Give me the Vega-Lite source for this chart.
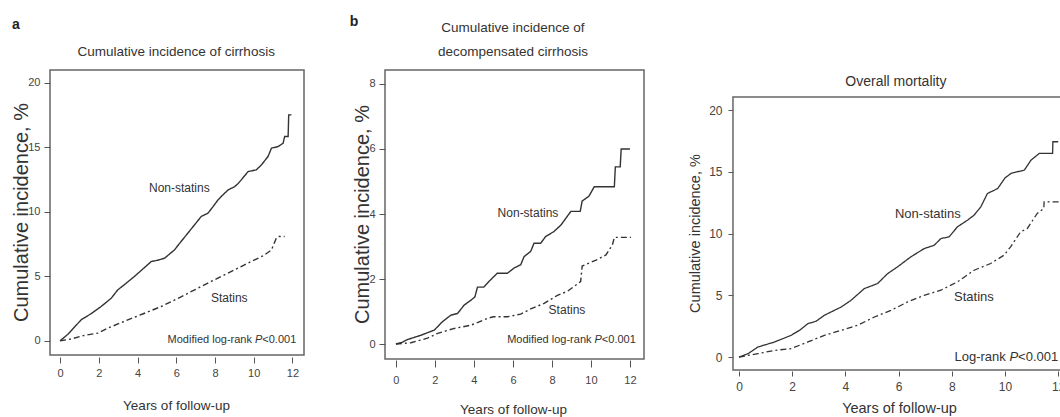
{
  "$schema": "https://vega.github.io/schema/vega-lite/v6.json",
  "padding": {"left": 10, "top": 14, "right": 0, "bottom": 0},
  "background": "white",
  "bounds": "flush",
  "spacing": 81,
  "datasets": {
    "a": [
      {"group": "Non-statins", "year": 0, "inc": 0},
      {"group": "Non-statins", "year": 0.4, "inc": 0.5},
      {"group": "Non-statins", "year": 1.09, "inc": 1.63},
      {"group": "Non-statins", "year": 1.6, "inc": 2.1},
      {"group": "Non-statins", "year": 2.12, "inc": 2.66},
      {"group": "Non-statins", "year": 2.64, "inc": 3.3},
      {"group": "Non-statins", "year": 2.98, "inc": 3.95},
      {"group": "Non-statins", "year": 3.4, "inc": 4.45},
      {"group": "Non-statins", "year": 3.84, "inc": 4.99},
      {"group": "Non-statins", "year": 4.3, "inc": 5.6},
      {"group": "Non-statins", "year": 4.71, "inc": 6.15},
      {"group": "Non-statins", "year": 5.05, "inc": 6.25},
      {"group": "Non-statins", "year": 5.4, "inc": 6.41},
      {"group": "Non-statins", "year": 5.91, "inc": 7.05},
      {"group": "Non-statins", "year": 6.25, "inc": 7.7},
      {"group": "Non-statins", "year": 6.6, "inc": 8.35},
      {"group": "Non-statins", "year": 6.95, "inc": 9.0},
      {"group": "Non-statins", "year": 7.29, "inc": 9.64},
      {"group": "Non-statins", "year": 7.64, "inc": 9.9},
      {"group": "Non-statins", "year": 7.9, "inc": 10.4},
      {"group": "Non-statins", "year": 8.16, "inc": 10.93},
      {"group": "Non-statins", "year": 8.4, "inc": 11.3},
      {"group": "Non-statins", "year": 8.68, "inc": 11.7},
      {"group": "Non-statins", "year": 9.02, "inc": 11.96},
      {"group": "Non-statins", "year": 9.2, "inc": 12.2},
      {"group": "Non-statins", "year": 9.36, "inc": 12.48},
      {"group": "Non-statins", "year": 9.71, "inc": 13.12},
      {"group": "Non-statins", "year": 10.14, "inc": 13.26},
      {"group": "Non-statins", "year": 10.4, "inc": 13.64},
      {"group": "Non-statins", "year": 10.74, "inc": 14.29},
      {"group": "Non-statins", "year": 10.92, "inc": 14.94},
      {"group": "Non-statins", "year": 11.26, "inc": 15.06},
      {"group": "Non-statins", "year": 11.52, "inc": 15.32},
      {"group": "Non-statins", "year": 11.6, "inc": 15.84},
      {"group": "Non-statins", "year": 11.78, "inc": 15.84},
      {"group": "Non-statins", "year": 11.81, "inc": 17.52},
      {"group": "Non-statins", "year": 11.95, "inc": 17.52},
      {"group": "Statins", "year": 0, "inc": 0},
      {"group": "Statins", "year": 0.6, "inc": 0.15},
      {"group": "Statins", "year": 1.2, "inc": 0.4},
      {"group": "Statins", "year": 1.95, "inc": 0.6},
      {"group": "Statins", "year": 2.5, "inc": 1.0},
      {"group": "Statins", "year": 3.5, "inc": 1.63},
      {"group": "Statins", "year": 4.3, "inc": 2.1},
      {"group": "Statins", "year": 5.22, "inc": 2.66},
      {"group": "Statins", "year": 6.1, "inc": 3.3},
      {"group": "Statins", "year": 6.95, "inc": 3.95},
      {"group": "Statins", "year": 7.8, "inc": 4.6},
      {"group": "Statins", "year": 8.68, "inc": 5.25},
      {"group": "Statins", "year": 9.4, "inc": 5.8},
      {"group": "Statins", "year": 10.05, "inc": 6.28},
      {"group": "Statins", "year": 10.5, "inc": 6.6},
      {"group": "Statins", "year": 10.92, "inc": 7.05},
      {"group": "Statins", "year": 11.17, "inc": 7.96},
      {"group": "Statins", "year": 11.3, "inc": 8.09},
      {"group": "Statins", "year": 11.6, "inc": 8.09}
    ],
    "b": [
      {"group": "Non-statins", "year": 0, "inc": 0},
      {"group": "Non-statins", "year": 0.3, "inc": 0.05},
      {"group": "Non-statins", "year": 0.6, "inc": 0.14},
      {"group": "Non-statins", "year": 1.28, "inc": 0.27},
      {"group": "Non-statins", "year": 1.97, "inc": 0.43},
      {"group": "Non-statins", "year": 2.39, "inc": 0.69},
      {"group": "Non-statins", "year": 2.82, "inc": 0.89},
      {"group": "Non-statins", "year": 3.16, "inc": 0.94},
      {"group": "Non-statins", "year": 3.5, "inc": 1.2},
      {"group": "Non-statins", "year": 3.85, "inc": 1.35},
      {"group": "Non-statins", "year": 4.05, "inc": 1.45},
      {"group": "Non-statins", "year": 4.18, "inc": 1.75},
      {"group": "Non-statins", "year": 4.5, "inc": 1.75},
      {"group": "Non-statins", "year": 4.86, "inc": 1.98},
      {"group": "Non-statins", "year": 5.2, "inc": 2.18},
      {"group": "Non-statins", "year": 5.72, "inc": 2.18},
      {"group": "Non-statins", "year": 6.06, "inc": 2.34},
      {"group": "Non-statins", "year": 6.4, "inc": 2.44},
      {"group": "Non-statins", "year": 6.57, "inc": 2.69},
      {"group": "Non-statins", "year": 6.91, "inc": 2.85},
      {"group": "Non-statins", "year": 7.08, "inc": 3.1},
      {"group": "Non-statins", "year": 7.42, "inc": 3.1},
      {"group": "Non-statins", "year": 7.68, "inc": 3.31},
      {"group": "Non-statins", "year": 8.1, "inc": 3.46},
      {"group": "Non-statins", "year": 8.46, "inc": 3.66},
      {"group": "Non-statins", "year": 8.97, "inc": 4.08},
      {"group": "Non-statins", "year": 9.45, "inc": 4.08},
      {"group": "Non-statins", "year": 9.55, "inc": 4.4},
      {"group": "Non-statins", "year": 9.9, "inc": 4.55},
      {"group": "Non-statins", "year": 10.17, "inc": 4.84},
      {"group": "Non-statins", "year": 11.2, "inc": 4.84},
      {"group": "Non-statins", "year": 11.25, "inc": 5.45},
      {"group": "Non-statins", "year": 11.5, "inc": 5.45},
      {"group": "Non-statins", "year": 11.55, "inc": 6.0},
      {"group": "Non-statins", "year": 12.0, "inc": 6.0},
      {"group": "Statins", "year": 0, "inc": 0},
      {"group": "Statins", "year": 0.77, "inc": 0.04},
      {"group": "Statins", "year": 1.62, "inc": 0.18},
      {"group": "Statins", "year": 2.14, "inc": 0.33},
      {"group": "Statins", "year": 2.99, "inc": 0.48},
      {"group": "Statins", "year": 3.85, "inc": 0.58},
      {"group": "Statins", "year": 4.7, "inc": 0.79},
      {"group": "Statins", "year": 5.0, "inc": 0.84},
      {"group": "Statins", "year": 5.72, "inc": 0.84},
      {"group": "Statins", "year": 6.4, "inc": 0.92},
      {"group": "Statins", "year": 6.91, "inc": 1.08},
      {"group": "Statins", "year": 7.6, "inc": 1.25},
      {"group": "Statins", "year": 8.28, "inc": 1.5},
      {"group": "Statins", "year": 8.79, "inc": 1.62},
      {"group": "Statins", "year": 9.47, "inc": 1.92},
      {"group": "Statins", "year": 9.55, "inc": 2.4},
      {"group": "Statins", "year": 10.26, "inc": 2.58},
      {"group": "Statins", "year": 10.77, "inc": 2.74},
      {"group": "Statins", "year": 11.1, "inc": 3.05},
      {"group": "Statins", "year": 11.2, "inc": 3.28},
      {"group": "Statins", "year": 12.05, "inc": 3.28}
    ],
    "c": [
      {"group": "Non-statins", "year": 0, "inc": 0},
      {"group": "Non-statins", "year": 0.34, "inc": 0.27},
      {"group": "Non-statins", "year": 0.71, "inc": 0.81},
      {"group": "Non-statins", "year": 1.34, "inc": 1.22},
      {"group": "Non-statins", "year": 1.96, "inc": 1.76},
      {"group": "Non-statins", "year": 2.3, "inc": 2.2},
      {"group": "Non-statins", "year": 2.59, "inc": 2.7},
      {"group": "Non-statins", "year": 2.9, "inc": 2.9},
      {"group": "Non-statins", "year": 3.21, "inc": 3.38},
      {"group": "Non-statins", "year": 3.84, "inc": 4.05},
      {"group": "Non-statins", "year": 4.21, "inc": 4.59},
      {"group": "Non-statins", "year": 4.71, "inc": 5.54},
      {"group": "Non-statins", "year": 5.21, "inc": 5.95},
      {"group": "Non-statins", "year": 5.59, "inc": 6.76},
      {"group": "Non-statins", "year": 5.96, "inc": 7.3},
      {"group": "Non-statins", "year": 6.46, "inc": 8.11},
      {"group": "Non-statins", "year": 6.96, "inc": 8.78},
      {"group": "Non-statins", "year": 7.34, "inc": 9.05},
      {"group": "Non-statins", "year": 7.59, "inc": 9.59},
      {"group": "Non-statins", "year": 7.9, "inc": 9.73},
      {"group": "Non-statins", "year": 8.21, "inc": 10.54},
      {"group": "Non-statins", "year": 8.59, "inc": 11.08},
      {"group": "Non-statins", "year": 8.84, "inc": 11.49},
      {"group": "Non-statins", "year": 9.09, "inc": 12.16},
      {"group": "Non-statins", "year": 9.34, "inc": 13.24},
      {"group": "Non-statins", "year": 9.59, "inc": 13.5},
      {"group": "Non-statins", "year": 9.73, "inc": 13.66},
      {"group": "Non-statins", "year": 10.0, "inc": 14.5},
      {"group": "Non-statins", "year": 10.23, "inc": 14.87},
      {"group": "Non-statins", "year": 10.73, "inc": 15.14},
      {"group": "Non-statins", "year": 10.98, "inc": 15.95},
      {"group": "Non-statins", "year": 11.29, "inc": 16.49},
      {"group": "Non-statins", "year": 11.79, "inc": 16.49},
      {"group": "Non-statins", "year": 11.8, "inc": 17.43},
      {"group": "Non-statins", "year": 12.0, "inc": 17.43},
      {"group": "Statins", "year": 0, "inc": 0},
      {"group": "Statins", "year": 0.71, "inc": 0.27},
      {"group": "Statins", "year": 1.34, "inc": 0.54},
      {"group": "Statins", "year": 1.96, "inc": 0.68},
      {"group": "Statins", "year": 2.59, "inc": 1.22},
      {"group": "Statins", "year": 3.21, "inc": 1.76},
      {"group": "Statins", "year": 3.84, "inc": 2.16},
      {"group": "Statins", "year": 4.46, "inc": 2.57},
      {"group": "Statins", "year": 5.09, "inc": 3.24},
      {"group": "Statins", "year": 5.71, "inc": 3.78},
      {"group": "Statins", "year": 6.34, "inc": 4.46},
      {"group": "Statins", "year": 6.96, "inc": 5.0},
      {"group": "Statins", "year": 7.59, "inc": 5.41},
      {"group": "Statins", "year": 8.21, "inc": 6.08},
      {"group": "Statins", "year": 8.84, "inc": 7.03},
      {"group": "Statins", "year": 9.46, "inc": 7.57},
      {"group": "Statins", "year": 9.96, "inc": 8.24},
      {"group": "Statins", "year": 10.21, "inc": 8.92},
      {"group": "Statins", "year": 10.59, "inc": 10.14},
      {"group": "Statins", "year": 10.84, "inc": 10.41},
      {"group": "Statins", "year": 11.21, "inc": 11.62},
      {"group": "Statins", "year": 11.46, "inc": 12.03},
      {"group": "Statins", "year": 11.47, "inc": 12.57},
      {"group": "Statins", "year": 12.08, "inc": 12.57}
    ]
  },
  "hconcat": [
    {
      "width": 254,
      "height": 285,
      "view": {"stroke": "#666", "strokeWidth": 1.5},
      "layer": [
        {
          "data": {"name": "a"},
          "mark": {"type": "line", "color": "#333", "strokeWidth": 1.4},
          "encoding": {
            "x": {"field": "year", "type": "quantitative", "scale": {"domain": [-0.52, 12.6], "nice": false, "zero": false},
              "axis": {"values": [0, 2, 4, 6, 8, 10, 12], "domain": false, "grid": false, "offset": 2, "tickSize": 6, "tickColor": "#555", "labelPadding": 4, "labelFont": "Liberation Sans", "labelFontSize": 11, "labelColor": "#444",
                "title": "Years of follow-up", "titleFont": "Liberation Sans", "titleFontSize": 13.5, "titleFontWeight": "normal", "titleColor": "#333", "titleX": 126, "titleY": 48, "titleBaseline": "middle", "titleAlign": "center"}},
            "y": {"field": "inc", "type": "quantitative", "scale": {"domain": [-1.1, 21.0], "nice": false, "zero": false},
              "axis": {"values": [0, 5, 10, 15, 20], "domain": false, "grid": false, "tickSize": 6, "tickColor": "#555", "labelPadding": 4, "labelFont": "Liberation Sans", "labelFontSize": 11, "labelColor": "#444",
                "title": "Cumulative incidence, %", "titleFont": "Liberation Sans", "titleFontSize": 20, "titleFontWeight": "normal", "titleColor": "#333", "titleAngle": -90, "titleX": -29, "titleY": 142, "titleBaseline": "middle", "titleAlign": "center"}},
            "strokeDash": {"field": "group", "type": "nominal", "scale": {"domain": ["Non-statins", "Statins"], "range": [[1, 0], [6, 3, 2, 3]]}, "legend": null},
            "order": {"value": null}
          }
        },
        {"data": {"values": [{}]}, "mark": {"type": "text", "text": "Cumulative incidence of cirrhosis", "font": "Liberation Sans", "fontSize": 13.5, "color": "#333", "baseline": "middle"}, "encoding": {"x": {"datum": 6.0}, "y": {"datum": 22.4}}},
        {"data": {"values": [{}]}, "mark": {"type": "text", "text": "Non-statins", "font": "Liberation Sans", "fontSize": 12, "color": "#333", "baseline": "middle"}, "encoding": {"x": {"datum": 6.16}, "y": {"datum": 11.86}}},
        {"data": {"values": [{}]}, "mark": {"type": "text", "text": "Statins", "font": "Liberation Sans", "fontSize": 12, "color": "#333", "baseline": "middle"}, "encoding": {"x": {"datum": 8.74}, "y": {"datum": 3.33}}},
        {"data": {"values": [{}]}, "mark": {"type": "text", "text": "<0.001", "font": "Liberation Sans", "fontSize": 11, "color": "#333", "align": "right", "baseline": "middle"}, "encoding": {"x": {"datum": 12.2}, "y": {"datum": 0.1}}},
        {"data": {"values": [{}]}, "mark": {"type": "text", "text": "P", "font": "Liberation Sans", "fontStyle": "italic", "fontSize": 11, "color": "#333", "align": "right", "baseline": "middle", "dx": -33.9}, "encoding": {"x": {"datum": 12.2}, "y": {"datum": 0.1}}},
        {"data": {"values": [{}]}, "mark": {"type": "text", "text": "Modified log-rank", "font": "Liberation Sans", "fontSize": 11, "color": "#333", "align": "right", "baseline": "middle", "dx": -44.3}, "encoding": {"x": {"datum": 12.2}, "y": {"datum": 0.1}}},
        {"data": {"values": [{}]}, "mark": {"type": "text", "text": "a", "font": "Liberation Sans", "fontWeight": "bold", "fontSize": 14, "color": "#222", "baseline": "middle"}, "encoding": {"x": {"datum": -2.28}, "y": {"datum": 24.5}}}
      ]
    },
    {
      "width": 259,
      "height": 289,
      "view": {"stroke": "#666", "strokeWidth": 1.5},
      "layer": [
        {
          "data": {"name": "b"},
          "mark": {"type": "line", "color": "#333", "strokeWidth": 1.4},
          "encoding": {
            "x": {"field": "year", "type": "quantitative", "scale": {"domain": [-0.56, 12.72], "nice": false, "zero": false},
              "axis": {"values": [0, 2, 4, 6, 8, 10, 12], "domain": false, "grid": false, "offset": 1, "tickSize": 7, "tickColor": "#555", "labelPadding": 7, "labelFont": "Liberation Sans", "labelFontSize": 11, "labelColor": "#444",
                "title": "Years of follow-up", "titleFont": "Liberation Sans", "titleFontSize": 13.5, "titleFontWeight": "normal", "titleColor": "#333", "titleX": 128, "titleY": 49, "titleBaseline": "middle", "titleAlign": "center"}},
            "y": {"field": "inc", "type": "quantitative", "scale": {"domain": [-0.46, 8.43], "nice": false, "zero": false},
              "axis": {"values": [0, 2, 4, 6, 8], "domain": false, "grid": false, "tickSize": 6, "tickColor": "#555", "labelPadding": 4, "labelFont": "Liberation Sans", "labelFontSize": 11, "labelColor": "#444",
                "title": "Cumulative incidence, %", "titleFont": "Liberation Sans", "titleFontSize": 20, "titleFontWeight": "normal", "titleColor": "#333", "titleAngle": -90, "titleX": -23, "titleY": 144, "titleBaseline": "middle", "titleAlign": "center"}},
            "strokeDash": {"field": "group", "type": "nominal", "scale": {"domain": ["Non-statins", "Statins"], "range": [[1, 0], [6, 3, 2, 3]]}, "legend": null},
            "order": {"value": null}
          }
        },
        {"data": {"values": [{}]}, "mark": {"type": "text", "text": "Cumulative incidence of", "font": "Liberation Sans", "fontSize": 13.5, "color": "#333", "baseline": "middle"}, "encoding": {"x": {"datum": 6.0}, "y": {"datum": 9.72}}},
        {"data": {"values": [{}]}, "mark": {"type": "text", "text": "decompensated cirrhosis", "font": "Liberation Sans", "fontSize": 13.5, "color": "#333", "baseline": "middle"}, "encoding": {"x": {"datum": 6.0}, "y": {"datum": 8.98}}},
        {"data": {"values": [{}]}, "mark": {"type": "text", "text": "Non-statins", "font": "Liberation Sans", "fontSize": 12, "color": "#333", "baseline": "middle"}, "encoding": {"x": {"datum": 6.77}, "y": {"datum": 4.03}}},
        {"data": {"values": [{}]}, "mark": {"type": "text", "text": "Statins", "font": "Liberation Sans", "fontSize": 12, "color": "#333", "baseline": "middle"}, "encoding": {"x": {"datum": 8.77}, "y": {"datum": 1.05}}},
        {"data": {"values": [{}]}, "mark": {"type": "text", "text": "<0.001", "font": "Liberation Sans", "fontSize": 11, "color": "#333", "align": "right", "baseline": "middle"}, "encoding": {"x": {"datum": 12.3}, "y": {"datum": 0.12}}},
        {"data": {"values": [{}]}, "mark": {"type": "text", "text": "P", "font": "Liberation Sans", "fontStyle": "italic", "fontSize": 11, "color": "#333", "align": "right", "baseline": "middle", "dx": -33.9}, "encoding": {"x": {"datum": 12.3}, "y": {"datum": 0.12}}},
        {"data": {"values": [{}]}, "mark": {"type": "text", "text": "Modified log-rank", "font": "Liberation Sans", "fontSize": 11, "color": "#333", "align": "right", "baseline": "middle", "dx": -44.3}, "encoding": {"x": {"datum": 12.3}, "y": {"datum": 0.12}}},
        {"data": {"values": [{}]}, "mark": {"type": "text", "text": "b", "font": "Liberation Sans", "fontWeight": "bold", "fontSize": 14, "color": "#222", "baseline": "middle"}, "encoding": {"x": {"datum": -2.15}, "y": {"datum": 9.9}}}
      ]
    },
    {
      "width": 339,
      "height": 300,
      "view": {"stroke": null},
      "layer": [
        {
          "data": {"values": [{}]},
          "mark": {"type": "rect", "fill": null, "stroke": "#666", "strokeWidth": 1.5},
          "encoding": {"x": {"datum": -0.226}, "x2": {"datum": 12.218}, "y": {"datum": -1.05}, "y2": {"datum": 21.05}}
        },
        {
          "data": {"name": "c"},
          "mark": {"type": "line", "color": "#333", "strokeWidth": 1.3},
          "encoding": {
            "x": {"field": "year", "type": "quantitative", "scale": {"domain": [-0.526, 12.218], "nice": false, "zero": false},
              "axis": {"values": [0, 2, 4, 6, 8, 10, 12], "domain": false, "grid": false, "offset": 1, "tickSize": 5, "tickColor": "#555", "labelPadding": 5, "labelFont": "Liberation Sans", "labelFontSize": 12, "labelColor": "#444",
                "title": "Years of follow-up", "titleFont": "Liberation Sans", "titleFontSize": 14.5, "titleFontWeight": "normal", "titleColor": "#333", "titleX": 174, "titleY": 37, "titleBaseline": "middle", "titleAlign": "center"}},
            "y": {"field": "inc", "type": "quantitative", "scale": {"domain": [-1.05, 23.24], "nice": false, "zero": false},
              "axis": {"values": [0, 5, 10, 15, 20], "domain": false, "grid": false, "offset": -8, "tickSize": 5, "tickColor": "#555", "labelPadding": 6, "labelFont": "Liberation Sans", "labelFontSize": 12, "labelColor": "#444",
                "title": "Cumulative incidence, %", "titleFont": "Liberation Sans", "titleFontSize": 14.5, "titleFontWeight": "normal", "titleColor": "#333", "titleAngle": -90, "titleX": -38, "titleY": 163, "titleBaseline": "middle", "titleAlign": "center"}},
            "strokeDash": {"field": "group", "type": "nominal", "scale": {"domain": ["Non-statins", "Statins"], "range": [[1, 0], [8, 4]]}, "legend": null},
            "order": {"value": null}
          }
        },
        {"data": {"values": [{}]}, "mark": {"type": "text", "text": "Overall mortality", "font": "Liberation Sans", "fontSize": 14, "color": "#333", "baseline": "middle"}, "encoding": {"x": {"datum": 5.9}, "y": {"datum": 22.27}}},
        {"data": {"values": [{}]}, "mark": {"type": "text", "text": "Non-statins", "font": "Liberation Sans", "fontSize": 13, "color": "#333", "baseline": "middle"}, "encoding": {"x": {"datum": 7.1}, "y": {"datum": 11.6}}},
        {"data": {"values": [{}]}, "mark": {"type": "text", "text": "Statins", "font": "Liberation Sans", "fontSize": 13, "color": "#333", "baseline": "middle"}, "encoding": {"x": {"datum": 8.83}, "y": {"datum": 4.86}}},
        {"data": {"values": [{}]}, "mark": {"type": "text", "text": "<0.001", "font": "Liberation Sans", "fontSize": 13, "color": "#333", "align": "right", "baseline": "middle"}, "encoding": {"x": {"datum": 12.0}, "y": {"datum": 0}}},
        {"data": {"values": [{}]}, "mark": {"type": "text", "text": "P", "font": "Liberation Sans", "fontStyle": "italic", "fontSize": 13, "color": "#333", "align": "right", "baseline": "middle", "dx": -40.1}, "encoding": {"x": {"datum": 12.0}, "y": {"datum": 0}}},
        {"data": {"values": [{}]}, "mark": {"type": "text", "text": "Log-rank", "font": "Liberation Sans", "fontSize": 13, "color": "#333", "align": "right", "baseline": "middle", "dx": -52.4}, "encoding": {"x": {"datum": 12.0}, "y": {"datum": 0}}}
      ]
    }
  ]
}
